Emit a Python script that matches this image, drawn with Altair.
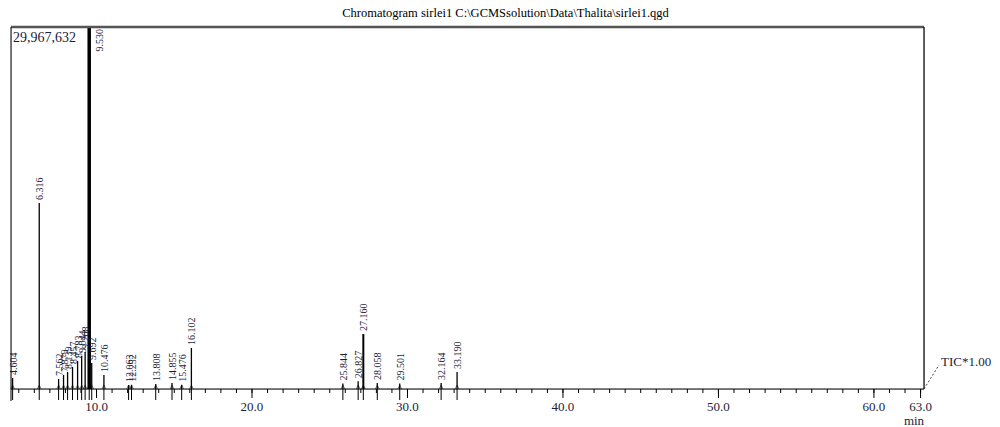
import altair as alt
import pandas as pd

# Retention times (min) of labelled peaks and their apex intensities (counts)
peak_rt = [4.604, 6.316, 7.562, 7.879, 8.139, 8.457, 8.783, 9.044, 9.268, 9.530, 9.692,
           10.476, 12.063, 12.252, 13.808, 14.855, 15.476, 16.102,
           25.844, 26.827, 27.160, 28.058, 29.501, 32.164, 33.190]
peak_int = [910000, 15400000, 830000, 1160000, 1410000, 1820000, 2320000, 2730000, 3060000,
            29967632, 2150000,
            1160000, 330000, 350000, 420000, 500000, 350000, 3400000,
            450000, 650000, 4550000, 500000, 450000, 500000, 1400000]
peak_label = [f"{v:.3f}" for v in peak_rt]

major_ticks = [10, 20, 30, 40, 50, 60, 63]
major_labels = ["10.0", "20.0", "30.0", "40.0", "50.0", "60.0", "63.0"]
minor_ticks = list(range(5, 64))
y_max = 29967632
x_min, x_max = 4.5, 63.22

title_text = "Chromatogram sirlei1 C:\\GCMSsolution\\Data\\Thalita\\sirlei1.qgd"
max_text = "29,967,632"
tic_text = "TIC*1.00"
unit_text = "min"

df = pd.DataFrame({"rt": peak_rt, "int": peak_int, "label": peak_label})
df["zero"] = 0
minor_df = pd.DataFrame({"t": minor_ticks})
major_df = pd.DataFrame({"t": major_ticks, "lab": major_labels})

W, H = 913, 362
SERIF = "Liberation Serif"
TXT = "#1c1c3c"

xs = alt.Scale(domain=[x_min, x_max], nice=False, zero=False)
ys = alt.Scale(domain=[0, y_max], nice=False, zero=True)

base = alt.Chart(df)

peaks = base.mark_rule(color="black").encode(
    x=alt.X("rt:Q", scale=xs, axis=None),
    y=alt.Y("zero:Q", scale=ys, axis=None),
    y2="int:Q",
    strokeWidth={"condition": [{"test": "datum.rt === 9.53", "value": 3.5},
                               {"test": "datum.rt === 27.16", "value": 2}],
                 "value": 1.3},
)

minor = alt.Chart(minor_df).mark_rule(color="black", strokeWidth=1).encode(
    x=alt.X("t:Q", scale=xs, axis=None),
    y=alt.value(H),
    y2=alt.value(H + 4),
)

major = alt.Chart(major_df).mark_rule(color="black", strokeWidth=1).encode(
    x=alt.X("t:Q", scale=xs, axis=None),
    y=alt.value(H),
    y2=alt.value(H + 9),
)

major_txt = alt.Chart(major_df).mark_text(
    align="center", baseline="middle", font=SERIF, fontSize=13, color=TXT).encode(
    x=alt.X("t:Q", scale=xs, axis=None),
    y=alt.value(H + 18),
    text="lab:N",
)

markers = base.mark_rule(color="black", strokeWidth=1).encode(
    x=alt.X("rt:Q", scale=xs, axis=None),
    y=alt.value(H),
    y2=alt.value(H + 11),
)

carets = base.mark_point(shape="M-1,1L0,-1L1,1", size=14, filled=False,
                         color="black", strokeWidth=0.8, yOffset=-2).encode(
    x=alt.X("rt:Q", scale=xs, axis=None),
    y=alt.Y("zero:Q", scale=ys, axis=None),
)

labels = base.transform_filter("datum.rt !== 9.53").mark_text(
    angle=270, align="left", baseline="middle", dx=3, dy=1,
    font=SERIF, fontSize=10, color=TXT,
).encode(
    x=alt.X("rt:Q", scale=xs, axis=None),
    y=alt.Y("int:Q", scale=ys, axis=None),
    text="label:N",
)

main_label = base.transform_filter("datum.rt === 9.53").mark_text(
    angle=270, align="right", baseline="middle", dx=-2, dy=11,
    font=SERIF, fontSize=10, color=TXT,
).encode(
    x=alt.X("rt:Q", scale=xs, axis=None),
    y=alt.Y("int:Q", scale=ys, axis=None),
    text="label:N",
)

one = alt.Chart(pd.DataFrame({"t": [max_text]}))
max_lbl = one.mark_text(align="left", baseline="middle", font=SERIF, fontSize=14, color=TXT).encode(
    x=alt.value(2), y=alt.value(11), text="t:N")

top_border = one.mark_rule(color="#555555", strokeWidth=2.5).encode(
    x=alt.value(0), x2=alt.value(W), y=alt.value(0))
bottom_line = one.mark_rule(color="black", strokeWidth=1).encode(
    x=alt.value(0), x2=alt.value(W), y=alt.value(H))
left_border = one.mark_rule(color="black", strokeWidth=1).encode(
    x=alt.value(0), y=alt.value(0), y2=alt.value(H + 12))
right_border = one.mark_rule(color="black", strokeWidth=1.2).encode(
    x=alt.value(W), y=alt.value(0), y2=alt.value(H))

tic_line = one.mark_rule(color="#444444", strokeWidth=1, strokeDash=[2, 2]).encode(
    x=alt.value(W), y=alt.value(H), x2=alt.value(W + 15), y2=alt.value(H - 24))
tic_lbl = alt.Chart(pd.DataFrame({"t": [tic_text]})).mark_text(
    align="left", baseline="middle", font=SERIF, fontSize=13, color=TXT).encode(
    x=alt.value(W + 17), y=alt.value(H - 27), text="t:N")
unit_lbl = alt.Chart(pd.DataFrame({"t": [unit_text]})).mark_text(
    align="center", baseline="middle", font=SERIF, fontSize=13, color=TXT).encode(
    x=alt.value(W - 10), y=alt.value(H + 32), text="t:N")

chart = alt.layer(
    peaks, minor, major, major_txt, markers, carets, labels, main_label, max_lbl,
    top_border, bottom_line, left_border, right_border, tic_line, tic_lbl, unit_lbl,
).properties(
    width=W, height=H,
    title=alt.TitleParams(title_text, font=SERIF, fontSize=12.5, fontWeight="normal",
                          color="black", anchor="middle", frame="group", offset=6, dx=38),
    autosize=alt.AutoSizeParams(type="none"),
    padding={"left": 11, "top": 27, "right": 76, "bottom": 38},
).configure_view(stroke=None).configure(background="white")

chart.save("out.html", embed_options={"renderer": "svg", "actions": False})
